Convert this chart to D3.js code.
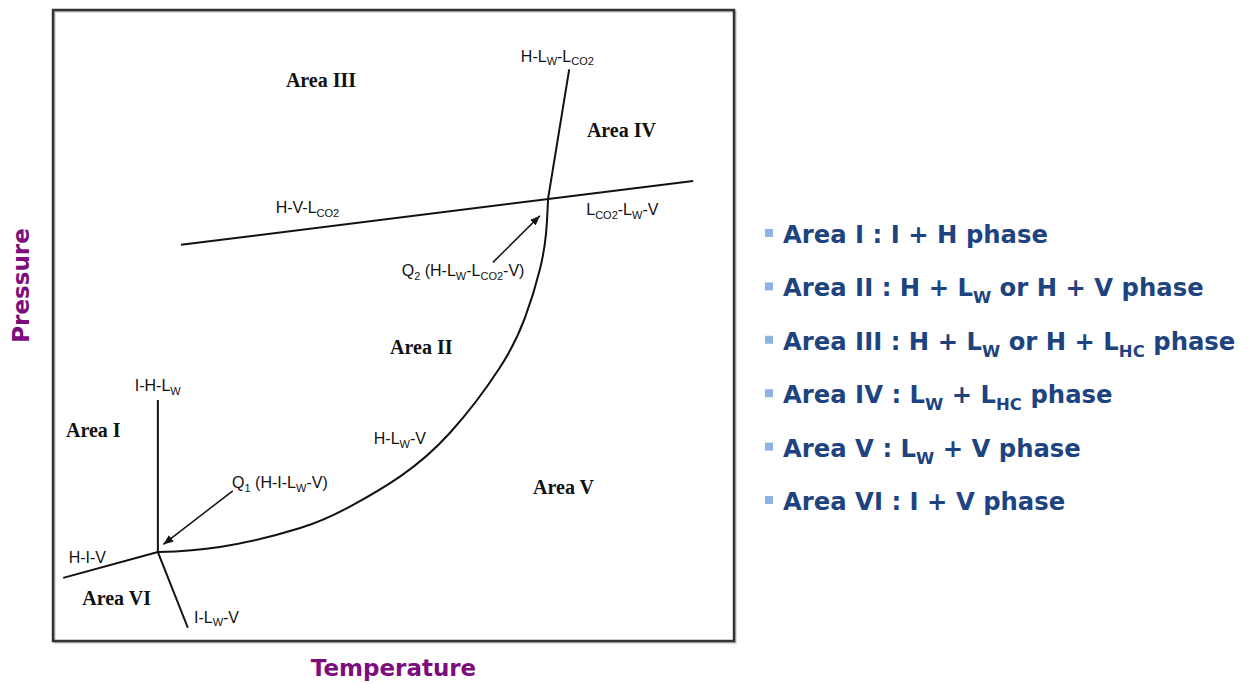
<!DOCTYPE html>
<html><head><meta charset="utf-8">
<script src="https://cdn.jsdelivr.net/npm/d3@7"></script>
<style>
html,body{margin:0;padding:0;background:#fff;}
svg{display:block;}
</style></head><body>
<svg id="chart" width="1255" height="684"></svg>
<script>
// Phase boundaries, in relative temperature / pressure units (0–100)
const hivLine     = [[1.5, 10.0], [15.4, 14.1]];
const ihlwLine    = [[15.4, 14.1], [15.4, 38.2]];
const ilwvLine    = [[15.4, 14.1], [19.8, 2.1]];
const hlwvCurve   = [[15.4, 14.1], [24.5, 14.9], [36.3, 17.9], [43.6, 21.3], [51.0, 26.1],
                     [58.3, 33.0], [65.6, 43.3], [69.3, 51.2], [71.5, 58.9], [72.4, 64.6], [72.7, 70.1]];
const hlwlco2Line = [[72.7, 70.1], [75.8, 90.6]];
const hvlco2Line  = [[18.8, 62.8], [94.0, 72.9]];

// Quadruple-point pointers: [from, to]
const q1Arrow = [[26.4, 23.8], [16.2, 15.3]];
const q2Arrow = [[64.6, 60.0], [71.5, 67.4]];

// Curve labels (text, temperature, pressure at label start)
const curveLabels = [
  ["H-L_{W}-L_{CO2}", 68.7, 91.8],
  ["H-V-L_{CO2}", 32.7, 67.8],
  ["L_{CO2}-L_{W}-V", 78.3, 67.5],
  ["Q_{2} (H-L_{W}-L_{CO2}-V)", 51.2, 57.8],
  ["I-H-L_{W}", 12.0, 39.6],
  ["Q_{1} (H-I-L_{W}-V)", 26.3, 24.2],
  ["H-I-V", 2.3, 12.4],
  ["I-L_{W}-V", 20.7, 2.9],
  ["H-L_{W}-V", 47.1, 31.2]
];

// Region names
const areaLabels = [
  ["Area III", 34.2, 87.8],
  ["Area IV", 78.4, 79.9],
  ["Area II", 49.5, 45.5],
  ["Area I", 1.9, 32.3],
  ["Area V", 70.5, 23.3],
  ["Area VI", 4.3, 5.7]
];

// Region descriptions
const legendItems = [
  "Area I : I + H phase",
  "Area II : H + L_{W} or H + V phase",
  "Area III : H + L_{W} or H + L_{HC} phase",
  "Area IV : L_{W} + L_{HC} phase",
  "Area V : L_{W} + V phase",
  "Area VI : I + V phase"
];

const xTitle = "Temperature";
const yTitle = "Pressure";

const svg = d3.select("#chart");
const x = d3.scaleLinear().domain([0, 100]).range([53, 734]);
const y = d3.scaleLinear().domain([0, 100]).range([641, 10]);

// Writes "A_{sub}" style strings as text with subscripts
function rich(textSel, str, subSize, shift) {
  const parts = str.split(/(_\{[^}]*\})/).filter(s => s.length);
  let lowered = false;
  parts.forEach(p => {
    const m = p.match(/^_\{([^}]*)\}$/);
    if (m) {
      textSel.append("tspan").attr("font-size", subSize)
        .attr("dy", lowered ? 0 : shift).text(m[1]);
      lowered = true;
    } else {
      textSel.append("tspan").attr("dy", lowered ? -shift : 0).text(p);
      lowered = false;
    }
  });
}

// Frame with a soft edge
svg.append("rect")
  .attr("x", x(0) + 1.5).attr("y", y(100) + 1.5)
  .attr("width", x(100) - x(0)).attr("height", y(0) - y(100))
  .attr("fill", "none").attr("stroke", "#bbb").attr("stroke-width", 2);
svg.append("rect")
  .attr("x", x(0)).attr("y", y(100))
  .attr("width", x(100) - x(0)).attr("height", y(0) - y(100))
  .attr("fill", "none").attr("stroke", "#333").attr("stroke-width", 2.5);

const line = d3.line().x(d => x(d[0])).y(d => y(d[1]));
const smooth = d3.line().x(d => x(d[0])).y(d => y(d[1])).curve(d3.curveNatural);

const g = svg.append("g").attr("fill", "none").attr("stroke", "#111").attr("stroke-width", 2);
[hivLine, ihlwLine, ilwvLine, hlwlco2Line, hvlco2Line].forEach(d => g.append("path").attr("d", line(d)));
g.append("path").attr("d", smooth(hlwvCurve));

// Arrowhead
svg.append("defs").append("marker")
  .attr("id", "head").attr("viewBox", "0 0 10 8")
  .attr("refX", 10).attr("refY", 4)
  .attr("markerWidth", 10).attr("markerHeight", 8)
  .attr("markerUnits", "userSpaceOnUse")
  .attr("orient", "auto")
  .append("path").attr("d", "M0,0 L10,4 L0,8 Z").attr("fill", "#111");

[q1Arrow, q2Arrow].forEach(d => svg.append("path")
  .attr("d", line(d)).attr("stroke", "#111").attr("stroke-width", 1.5)
  .attr("fill", "none").attr("marker-end", "url(#head)"));

// Curve labels
curveLabels.forEach(([t, tx, ty]) => {
  const el = svg.append("text").attr("x", x(tx)).attr("y", y(ty))
    .attr("font-family", "'Liberation Sans', Arial, sans-serif")
    .attr("font-size", 16).attr("fill", "#111");
  rich(el, t, 11, 3.5);
});

// Area names
areaLabels.forEach(([t, tx, ty]) => {
  svg.append("text").attr("x", x(tx)).attr("y", y(ty))
    .attr("font-family", "'Liberation Serif', 'Times New Roman', serif")
    .attr("font-weight", "bold").attr("font-size", 20).attr("fill", "#111")
    .text(t);
});

// Axis titles
svg.append("text").attr("x", (x(0) + x(100)) / 2).attr("y", 676)
  .attr("text-anchor", "middle")
  .attr("font-family", "'DejaVu Sans', Verdana, sans-serif")
  .attr("font-weight", "bold").attr("font-size", 23).attr("fill", "#7d0c7d")
  .text(xTitle);
svg.append("text")
  .attr("transform", `translate(29,${(y(0) + y(100)) / 2 - 40}) rotate(-90)`)
  .attr("text-anchor", "middle")
  .attr("font-family", "'DejaVu Sans', Verdana, sans-serif")
  .attr("font-weight", "bold").attr("font-size", 23).attr("fill", "#7d0c7d")
  .text(yTitle);

// Legend list
const ly = d3.scalePoint().domain(legendItems).range([243, 510]);
const leg = svg.append("g");
legendItems.forEach(t => {
  leg.append("rect").attr("x", 765).attr("y", ly(t) - 14)
    .attr("width", 8).attr("height", 8).attr("fill", "#8db3e2");
  const el = leg.append("text").attr("x", 783).attr("y", ly(t))
    .attr("font-family", "'DejaVu Sans', Verdana, sans-serif")
    .attr("font-weight", "bold").attr("font-size", 24.3).attr("fill", "#1d4480");
  rich(el, t, 16.5, 7);
});
</script>
</body></html>
